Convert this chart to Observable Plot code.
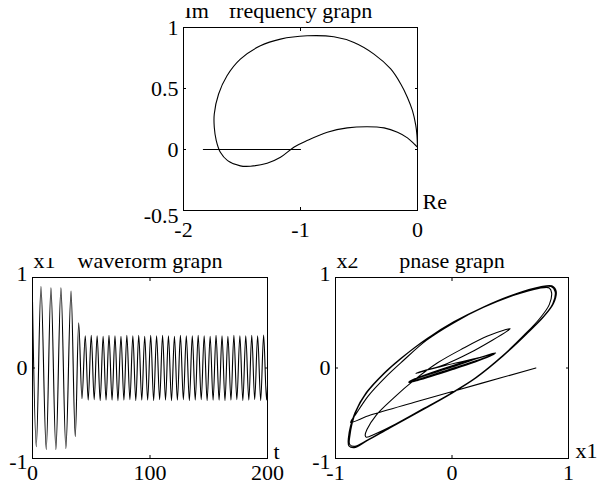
<!DOCTYPE html>
<html><head><meta charset="utf-8">
<script src="https://cdn.jsdelivr.net/npm/d3@7"></script>
<script src="https://cdn.jsdelivr.net/npm/@observablehq/plot@0.6"></script>
<style>
html,body{margin:0;padding:0;background:#fff;}
#root{position:relative;width:600px;height:484px;overflow:hidden;background:#fff;}
#root > div{position:absolute;overflow:hidden;}
#root svg{display:block;font-family:"Liberation Serif",serif !important;}
#root svg text{font-family:"Liberation Serif",serif !important;}
</style></head><body><div id="root"><div id="p1"></div><div id="p2"></div><div id="p3"></div></div>
<script>
// ---------- data ----------
// Nyquist (frequency graph)
const nyquistRe = [0, -0.005, -0.015, -0.043, -0.086, -0.143, -0.229, -0.372, -0.543, -0.715, -0.943, -1.171, -1.343, -1.514, -1.628, -1.70, -1.737, -1.737, -1.72, -1.685, -1.623, -1.514, -1.428, -1.285, -1.171, -1.057, -0.943, -0.771, -0.60, -0.428, -0.286, -0.171, -0.086, -0.029, 0];
const nyquistIm = [0.018, 0.12, 0.20, 0.318, 0.427, 0.537, 0.66, 0.782, 0.877, 0.924, 0.932, 0.905, 0.85, 0.741, 0.605, 0.455, 0.291, 0.182, 0.073, -0.023, -0.091, -0.134, -0.137, -0.113, -0.064, 0.018, 0.073, 0.141, 0.177, 0.187, 0.177, 0.141, 0.095, 0.046, 0.018];
const dfRe = [-1.83, -1.0];
const dfIm = [0, 0];

// waveform graph: extremes of x1(t)
const waveT = [0, 3.2, 7.2, 11.7, 15.7, 19.9, 24.2, 28.4, 32.8, 36.4, 39.3, 42.1,
  44.9, 47.4, 50.0, 52.5, 55.0, 57.6, 60.1, 62.6, 65.1, 67.7,
  70.2, 72.7, 75.3, 77.8, 80.3, 82.9, 85.4, 87.9, 90.4, 93.0,
  95.5, 98.0, 100.6, 103.1, 105.6, 108.2, 110.7, 113.2, 115.7, 118.3,
  120.8, 123.3, 125.9, 128.4, 130.9, 133.5, 136.0, 138.5, 141.0, 143.6,
  146.1, 148.6, 151.2, 153.7, 156.2, 158.8, 161.3, 163.8, 166.3, 168.9,
  171.4, 173.9, 176.5, 179.0, 181.5, 184.1, 186.6, 189.1, 191.6, 194.2,
  196.7, 199.2, 200];
const waveX1 = [0.73, -0.87, 0.90, -0.90, 0.885, -0.90, 0.885, -0.89, 0.85, -0.76, 0.50, -0.34,
  0.355, -0.355, 0.36, -0.35, 0.355, -0.36, 0.35, -0.355, 0.36, -0.355,
  0.355, -0.36, 0.35, -0.355, 0.36, -0.35, 0.355, -0.36, 0.36, -0.355,
  0.35, -0.355, 0.36, -0.36, 0.355, -0.35, 0.36, -0.355, 0.355, -0.36,
  0.35, -0.355, 0.36, -0.35, 0.355, -0.36, 0.355, -0.355, 0.36, -0.35,
  0.355, -0.36, 0.35, -0.355, 0.36, -0.355, 0.355, -0.36, 0.35, -0.355,
  0.36, -0.35, 0.355, -0.36, 0.355, -0.355, 0.36, -0.35, 0.355, -0.36,
  0.365, -0.355, -0.2];

// phase graph: (x1, x2) trajectory
const phasePath = [
  [0.72, 0.0], [0.25, -0.17], [-0.30, -0.37], [-0.70, -0.52], [-0.87, -0.60],
  [-0.83, -0.52], [-0.72, -0.31], [-0.57, -0.10], [-0.42, 0.08], [-0.22, 0.305], [0.01, 0.495], [0.27, 0.67], [0.53, 0.805], [0.75, 0.89], [0.85, 0.90], [0.885, 0.845],
  [0.865, 0.71], [0.78, 0.56], [0.64, 0.375], [0.44, 0.135], [0.21, -0.105], [-0.015, -0.29], [-0.27, -0.475], [-0.53, -0.66], [-0.73, -0.805], [-0.84, -0.88], [-0.885, -0.86],
  [-0.89, -0.78], [-0.835, -0.50], [-0.735, -0.27], [-0.59, -0.065], [-0.445, 0.10], [-0.215, 0.325], [0.015, 0.51], [0.27, 0.675], [0.53, 0.812], [0.757, 0.897], [0.857, 0.908], [0.894, 0.849],
  [0.871, 0.712], [0.786, 0.565], [0.643, 0.38], [0.443, 0.14], [0.214, -0.10], [-0.014, -0.284], [-0.271, -0.469], [-0.529, -0.653], [-0.729, -0.801], [-0.843, -0.875], [-0.886, -0.856],
  [-0.885, -0.775], [-0.83, -0.49], [-0.73, -0.265], [-0.585, -0.06], [-0.44, 0.105], [-0.21, 0.33], [0.02, 0.512], [0.275, 0.677], [0.53, 0.81], [0.755, 0.893], [0.852, 0.902], [0.888, 0.845],
  [0.866, 0.71], [0.78, 0.562], [0.64, 0.378], [0.44, 0.138], [0.21, -0.102], [-0.018, -0.286], [-0.275, -0.47], [-0.53, -0.652], [-0.725, -0.795], [-0.835, -0.865], [-0.878, -0.845],
  [-0.878, -0.765], [-0.825, -0.485], [-0.725, -0.262], [-0.58, -0.058], [-0.437, 0.105], [-0.208, 0.327], [0.02, 0.507], [0.272, 0.67], [0.525, 0.80], [0.745, 0.88], [0.835, 0.885], [0.855, 0.83],
  [0.835, 0.70], [0.755, 0.55], [0.62, 0.365], [0.43, 0.13], [0.20, -0.11], [-0.02, -0.29], [-0.27, -0.47], [-0.50, -0.63], [-0.66, -0.73], [-0.735, -0.765], [-0.745, -0.745],
  [-0.73, -0.68], [-0.65, -0.52], [-0.50, -0.33], [-0.33, -0.14], [-0.12, 0.06], [0.10, 0.22], [0.30, 0.35], [0.45, 0.42], [0.50, 0.435],
  [0.47, 0.405], [0.35, 0.31], [0.15, 0.165], [-0.05, 0.045], [-0.22, -0.025], [-0.31, -0.06],
  [-0.28, -0.045], [-0.10, 0.015], [0.10, 0.075], [0.30, 0.135], [0.355, 0.15],
  [0.30, 0.12], [0.0, -0.005], [-0.30, -0.13], [-0.37, -0.155],
  [-0.32, -0.12], [0.0, 0.02], [0.32, 0.145], [0.37, 0.16],
  [0.31, 0.125], [0.0, -0.01], [-0.31, -0.135], [-0.365, -0.15],
  [-0.31, -0.115], [0.0, 0.025], [0.31, 0.14], [0.365, 0.158],
  [0.30, 0.115], [0.0, -0.02], [-0.30, -0.14], [-0.37, -0.16],
  [-0.32, -0.125], [0.0, 0.01], [0.32, 0.15], [0.375, 0.165]
];

// tick values
const freqXTicks = [-2, -1, 0];
const freqYTicks = [-0.5, 0, 0.5, 1];
const waveXTicks = [0, 100, 200];
const waveYTicks = [-1, 0, 1];
const phaseXTicks = [-1, 0, 1];
const phaseYTicks = [-1, 0, 1];

// ---------- drawing ----------
const FONT = "Liberation Serif";
const fmt = d => String(d);

function panel(cfg) {
  const yInner = cfg.yTicks.slice(1, -1);
  const yFirst = cfg.yTicks[0], yLast = cfg.yTicks[cfg.yTicks.length - 1];
  const ax = {fontSize: 22, fontFamily: FONT, label: null};
  const tx = {fontSize: 22, fontFamily: FONT, text: d => d, lineAnchor: "bottom"};
  return Plot.plot({
    width: cfg.width, height: cfg.height,
    marginLeft: cfg.ml, marginRight: cfg.mr, marginTop: cfg.mt, marginBottom: cfg.mb,
    x: {domain: cfg.xDomain},
    y: {domain: cfg.yDomain},
    style: {fontFamily: FONT, fontSize: "22px", background: "white", color: "black"},
    marks: [
      ...cfg.marks,
      Plot.frame({stroke: "black", strokeWidth: 1}),
      Plot.axisX({ticks: cfg.xTicks, anchor: "bottom", tickSize: -3, fill: "none", label: null}),
      Plot.axisX({ticks: cfg.xTicks, anchor: "top", tickSize: -3, fill: "none", label: null}),
      Plot.axisY({ticks: cfg.yTicks, anchor: "left", tickSize: -3, fill: "none", label: null}),
      Plot.axisY({ticks: cfg.yTicks, anchor: "right", tickSize: -3, fill: "none", label: null}),
      Plot.axisX({ticks: cfg.xTicks, anchor: "bottom", tickSize: 0, tickPadding: cfg.xPad, tickFormat: fmt, ...ax}),
      Plot.axisY({ticks: yInner, anchor: "left", tickSize: 0, tickPadding: 5, tickFormat: fmt, ...ax}),
      Plot.axisY({ticks: [yFirst], anchor: "left", tickSize: 0, tickPadding: 5, tickFormat: fmt, dy: cfg.firstDy, ...ax}),
      Plot.axisY({ticks: [yLast], anchor: "left", tickSize: 0, tickPadding: 5, tickFormat: fmt, dy: cfg.lastDy, ...ax}),
      Plot.text([cfg.ylabel], {frameAnchor: "top-left", textAnchor: "start", dx: 1, dy: cfg.titleDy, ...tx}),
      Plot.text([cfg.title], {frameAnchor: "top", dy: cfg.titleDy, ...tx}),
      Plot.text([cfg.xlabel], {frameAnchor: "bottom-right", textAnchor: "start", dx: cfg.xlDx, dy: cfg.xlDy, ...tx})
    ]
  });
}

const line = {stroke: "black", strokeWidth: 1.1, clip: true};

const nyq = nyquistRe.map((re, i) => ({re, im: nyquistIm[i]}));
const df = dfRe.map((re, i) => ({re, im: dfIm[i]}));
const wave = waveT.map((t, i) => ({t, x1: waveX1[i]}));
const phase = phasePath.map(([x1, x2]) => ({x1, x2}));

function place(id, left, top, w, h, node) {
  const el = document.getElementById(id);
  el.style.left = left + "px"; el.style.top = top + "px";
  el.style.width = w + "px"; el.style.height = h + "px";
  el.appendChild(node);
}

place("p1", 0, 8, 600, 240, panel({
  width: 600, height: 240, ml: 183, mr: 183, mt: 19, mb: 38,
  xDomain: [-2, 0], yDomain: [-0.5, 1], xTicks: freqXTicks, yTicks: freqYTicks,
  xPad: 11, firstDy: 5, lastDy: 0, titleDy: -10,
  ylabel: "Im", title: "frequency graph", xlabel: "Re", xlDx: 5, xlDy: -2,
  marks: [
    Plot.line(nyq, {x: "re", y: "im", curve: "catmull-rom", ...line}),
    Plot.line(df, {x: "re", y: "im", ...line})
  ]
}));

place("p2", 0, 258, 300, 226, panel({
  width: 300, height: 226, ml: 32, mr: 33, mt: 19, mb: 26,
  xDomain: [0, 200], yDomain: [-1, 1], xTicks: waveXTicks, yTicks: waveYTicks,
  xPad: 6, firstDy: 3, lastDy: -4, titleDy: -10,
  ylabel: "x1", title: "waveform graph", xlabel: "t", xlDx: 6, xlDy: 0,
  marks: [
    Plot.line(wave, {x: "t", y: "x1", curve: "monotone-x", ...line})
  ]
}));

place("p3", 300, 258, 300, 226, panel({
  width: 300, height: 226, ml: 35, mr: 32, mt: 19, mb: 26,
  xDomain: [-1, 1], yDomain: [-1, 1], xTicks: phaseXTicks, yTicks: phaseYTicks,
  xPad: 6, firstDy: 3, lastDy: -4, titleDy: -10,
  ylabel: "x2", title: "phase graph", xlabel: "x1", xlDx: 7, xlDy: -1,
  marks: [
    Plot.line(phase, {x: "x1", y: "x2", curve: "catmull-rom", ...line})
  ]
}));
</script>
</body></html>
